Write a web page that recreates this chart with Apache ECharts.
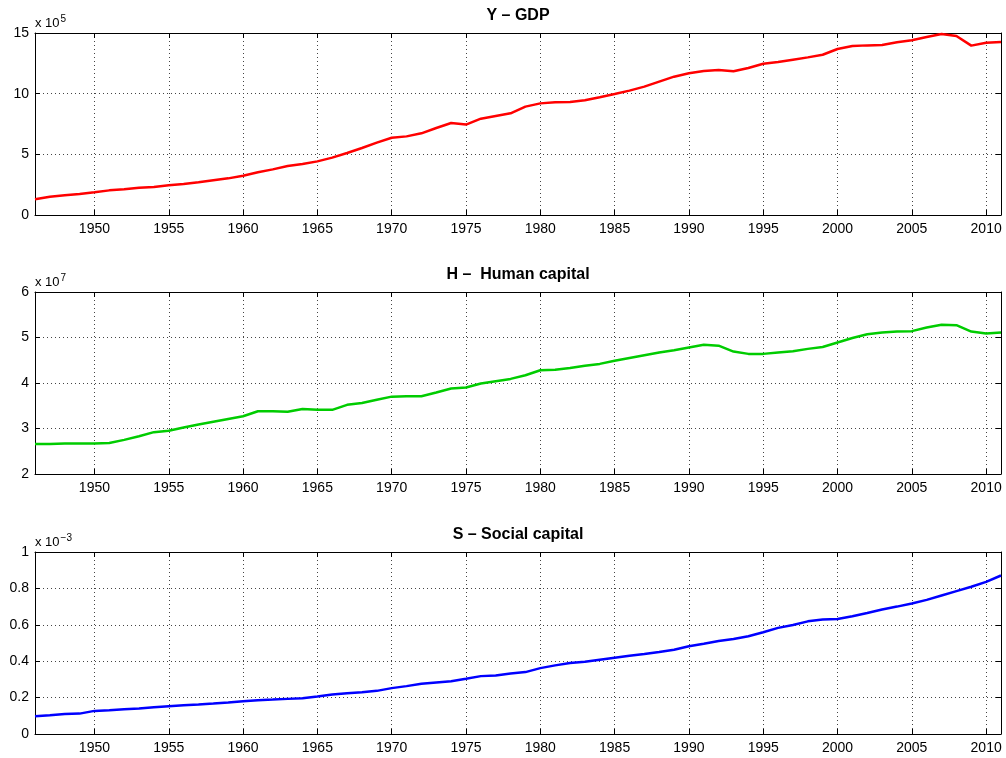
<!DOCTYPE html>
<html>
<head>
<meta charset="utf-8">
<script src="https://cdn.jsdelivr.net/npm/echarts@6/dist/echarts.min.js"></script>
<style>
  html, body { margin: 0; padding: 0; background: #fff; }
  #chart { width: 1006px; height: 758px; }
</style>
</head>
<body>
<div id="chart"></div>
<script>
// Years 1946..2011
const years = [];
for (let y = 1946; y <= 2011; y++) years.push(y);

// Y - GDP, in units of 1e5
const gdp = [
  1.29, 1.51, 1.62, 1.73, 1.87, 2.03, 2.12, 2.25, 2.31, 2.45,
  2.55, 2.69, 2.86, 3.02, 3.24, 3.52, 3.76, 4.04, 4.20, 4.42,
  4.73, 5.11, 5.52, 5.96, 6.37, 6.48, 6.73, 7.17, 7.58, 7.45,
  7.94, 8.16, 8.38, 8.93, 9.20, 9.29, 9.31, 9.45, 9.70, 9.97,
  10.25, 10.58, 10.99, 11.40, 11.68, 11.87, 11.95, 11.84, 12.12, 12.47,
  12.61, 12.80, 12.99, 13.21, 13.68, 13.93, 13.98, 14.01, 14.23, 14.40,
  14.67, 14.92, 14.75, 13.96, 14.20, 14.26
];

// H - Human capital, in units of 1e7
const human = [
  2.66, 2.66, 2.67, 2.67, 2.67, 2.68, 2.75, 2.83, 2.92, 2.95,
  3.02, 3.09, 3.15, 3.21, 3.27, 3.38, 3.38, 3.37, 3.43, 3.41,
  3.41, 3.52, 3.56, 3.63, 3.70, 3.71, 3.71, 3.79, 3.88, 3.90,
  3.99, 4.04, 4.09, 4.17, 4.28, 4.29, 4.33, 4.38, 4.42, 4.49,
  4.55, 4.61, 4.67, 4.72, 4.78, 4.84, 4.82, 4.69, 4.64, 4.64,
  4.67, 4.70, 4.75, 4.79, 4.89, 4.99, 5.07, 5.11, 5.13, 5.14,
  5.22, 5.28, 5.27, 5.13, 5.09, 5.11
];

// S - Social capital, in units of 1e-3
const social = [
  0.097, 0.103, 0.110, 0.112, 0.127, 0.131, 0.136, 0.140, 0.147, 0.153,
  0.158, 0.162, 0.167, 0.173, 0.180, 0.186, 0.189, 0.193, 0.197, 0.206,
  0.217, 0.224, 0.230, 0.237, 0.252, 0.263, 0.276, 0.283, 0.290, 0.303,
  0.318, 0.322, 0.333, 0.340, 0.362, 0.377, 0.390, 0.397, 0.408, 0.419,
  0.430, 0.439, 0.450, 0.463, 0.482, 0.496, 0.511, 0.522, 0.537, 0.559,
  0.583, 0.599, 0.619, 0.629, 0.632, 0.647, 0.665, 0.684, 0.700, 0.717,
  0.737, 0.761, 0.785, 0.809, 0.836, 0.871
];

const xTicks = [1950, 1955, 1960, 1965, 1970, 1975, 1980, 1985, 1990, 1995, 2000, 2005, 2010];

const panels = [
  { title: 'Y \u2013 GDP', exp: '5', data: gdp, color: '#ff0000', min: 0, max: 15, interval: 5 },
  { title: 'H \u2013  Human capital', exp: '7', data: human, color: '#00cc00', min: 2, max: 6, interval: 1 },
  { title: 'S \u2013 Social capital', exp: '\u22123', data: social, color: '#0000ff', min: 0, max: 1, interval: 0.2 }
];

const gridTops = [33, 292, 552];
const gridH = 182;
const gridLeft = 35, gridRight = 5;
const FONT = '"Liberation Sans", Arial, Helvetica, sans-serif';

const grid = [], xAxis = [], yAxis = [], series = [], title = [];
const boxLine = { show: true, onZero: false, lineStyle: { color: '#000', width: 1 } };
const tickIn = { show: true, inside: true, length: 5, lineStyle: { color: '#000', width: 1 } };
const dotted = { show: true, lineStyle: { color: '#444', width: 1, type: [1, 3] } };

panels.forEach((p, i) => {
  grid.push({ left: gridLeft, right: gridRight, top: gridTops[i], height: gridH, containLabel: false });

  // bottom x axis with labels and grid lines
  xAxis.push({
    type: 'value', gridIndex: i, min: 1946, max: 2011, position: 'bottom',
    axisLine: boxLine,
    axisTick: Object.assign({}, tickIn, { customValues: xTicks }),
    axisLabel: { customValues: xTicks, formatter: v => String(v), color: '#000', fontSize: 14, fontFamily: FONT, margin: 7 },
    splitLine: dotted
  });
  // top x axis: box edge and inward ticks only
  xAxis.push({
    type: 'value', gridIndex: i, min: 1946, max: 2011, position: 'top',
    axisLine: boxLine,
    axisTick: Object.assign({}, tickIn, { customValues: xTicks }),
    axisLabel: { show: false, customValues: xTicks },
    splitLine: { show: false }
  });
  // left y axis with labels and grid lines
  yAxis.push({
    type: 'value', gridIndex: i, min: p.min, max: p.max, interval: p.interval, position: 'left',
    axisLine: boxLine, axisTick: tickIn,
    axisLabel: { color: '#000', fontSize: 14, fontFamily: FONT, margin: 6,
      formatter: v => String(+v.toFixed(1)) },
    splitLine: dotted
  });
  // right y axis: box edge and inward ticks only
  yAxis.push({
    type: 'value', gridIndex: i, min: p.min, max: p.max, interval: p.interval, position: 'right',
    axisLine: boxLine, axisTick: tickIn,
    axisLabel: { show: false }, splitLine: { show: false }
  });

  series.push({
    type: 'line', xAxisIndex: 2 * i, yAxisIndex: 2 * i,
    data: years.map((y, k) => [y, p.data[k]]),
    showSymbol: false, symbol: 'none', smooth: false,
    lineStyle: { color: p.color, width: 2.5 },
    z: 3, silent: true
  });

  // panel heading
  title.push({
    text: p.title, left: gridLeft + (1006 - gridLeft - gridRight) / 2, top: gridTops[i] - 25, textAlign: 'center',
    padding: 0,
    textStyle: { fontFamily: FONT, fontSize: 16, fontWeight: 'bold', color: '#000' }
  });
  // scale factor for the y axis
  title.push({
    text: 'x 10{sup|' + p.exp + '}', left: gridLeft, top: gridTops[i] - 19,
    padding: 0,
    textStyle: {
      fontFamily: FONT, fontSize: 13, fontWeight: 'normal', color: '#000',
      rich: { sup: { fontFamily: FONT, fontSize: 10, fontWeight: 'normal', color: '#000', verticalAlign: 'top', padding: [0, 0, 9, 1] } }
    }
  });
});

const chart = echarts.init(document.getElementById('chart'), null, { renderer: 'canvas' });
chart.setOption({
  animation: false,
  backgroundColor: '#fff',
  title, grid, xAxis, yAxis, series
});
</script>
</body>
</html>
